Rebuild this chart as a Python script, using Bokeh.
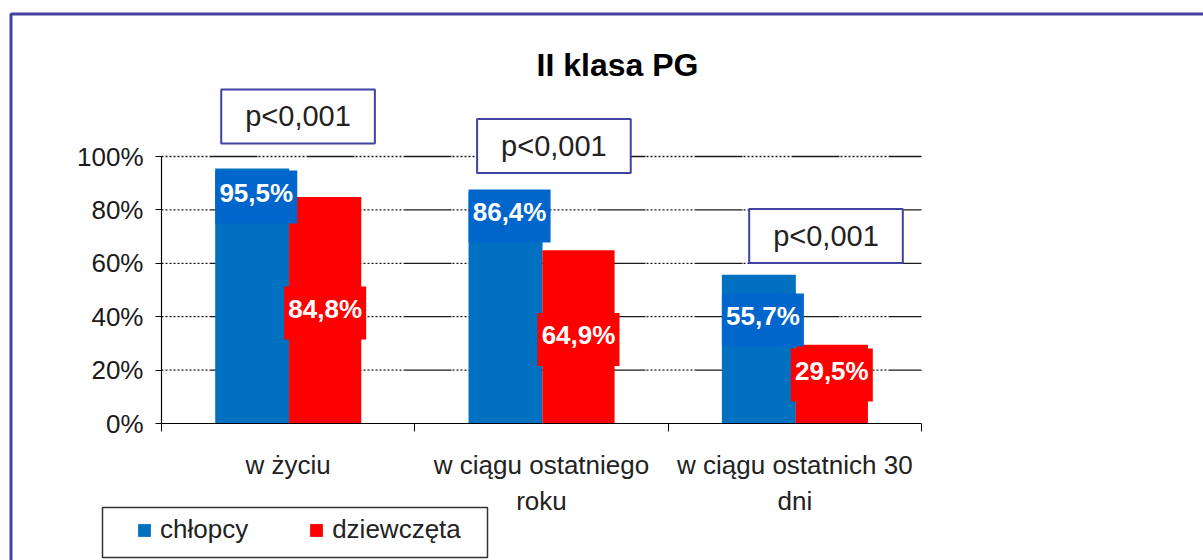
from bokeh.plotting import figure
from bokeh.models import (Range1d, FixedTicker, PrintfTickFormatter, Label, BoxAnnotation,
                          Legend, LegendItem, ColumnDataSource, LinearAxis)
from bokeh.core.properties import value
from bokeh.embed import file_html
from bokeh.resources import INLINE

# ---------------- data ----------------
categories = ["w życiu", "w ciągu ostatniego\nroku", "w ciągu ostatnich 30\ndni"]
boys = [95.5, 86.4, 55.7]
girls = [84.8, 64.9, 29.5]
series_names = ["chłopcy", "dziewczęta"]
p_values = ["p<0,001", "p<0,001", "p<0,001"]
y_ticks = [0, 20, 40, 60, 80, 100]
title_text = "II klasa PG"

# ---------------- layout (positions, not data) ----------------
BOYS_LABEL_Y = [84.8, 77.7, 38.8]
GIRLS_LABEL_Y = [41.4, 31.5, 18.2]
PBOX_DX = [0.039, 0.049, 0.123]
PBOX_Y = [115.0, 103.9, 70.2]
BOY_DX, GIRL_DX = -0.142, 0.146
BOY_W, GIRL_W = 0.292, 0.285
BOY_LABEL_DX = -0.126

BLUE = "#0070C0"
BLUE_LABEL = "#0066CC"
RED = "#FF0000"
FRAME_BLUE = "#4242a2"
FONT = "Liberation Sans"

W, H = 1203, 560
# plot area: x 0..3 spans px 161..921, y 0..100 spans px 423..156
PX_X = (921 - 161) / 3.0
PX_Y = (423 - 156) / 100.0
x_range = Range1d(-161 / PX_X, (W - 161) / PX_X)
y_range = Range1d(-(H - 423) / PX_Y, 423 / PX_Y)

p = figure(width=W, height=H, output_backend="svg", toolbar_location=None,
           x_range=x_range, y_range=y_range,
           x_axis_location=None, y_axis_location=None,
           min_border=0, min_border_left=0, min_border_right=0,
           min_border_top=0, min_border_bottom=0)
p.outline_line_color = None
p.background_fill_color = "white"
p.border_fill_color = "white"
p.grid.visible = False

ncat = len(categories)
centers = [i + 0.5 for i in range(ncat)]
src = ColumnDataSource(dict(
    xb=[c + BOY_DX for c in centers],
    xg=[c + GIRL_DX for c in centers],
    xbl=[c + BOY_LABEL_DX for c in centers],
    boys=boys, girls=girls,
    boys_ly=BOYS_LABEL_Y, girls_ly=GIRLS_LABEL_Y,
    boys_txt=[f"{v:.1f}".replace(".", ",") + "%" for v in boys],
    girls_txt=[f"{v:.1f}".replace(".", ",") + "%" for v in girls],
))

# horizontal grid lines at the y ticks (over the category span)
gsrc = ColumnDataSource(dict(y=y_ticks[1:], x0=[0] * (len(y_ticks) - 1), x1=[ncat] * (len(y_ticks) - 1)))
p.segment(x0="x0", x1="x1", y0="y", y1="y", source=gsrc, line_color="#1a1a1a", line_width=1.3,
          line_dash=" ".join(["2 2"] * 12) + " 48 1", level="underlay")

# bars
rb = p.vbar(x="xb", top="boys", width=BOY_W, bottom=0, fill_color=BLUE, line_color=None, source=src)
rg = p.vbar(x="xg", top="girls", width=GIRL_W, bottom=0, fill_color=RED, line_color=None, source=src)

# data labels
p.rect(x="xbl", y="boys_ly", width=82, height=53, width_units="screen", height_units="screen",
       fill_color=BLUE_LABEL, line_color=None, source=src)
p.rect(x="xg", y="girls_ly", width=82, height=53, width_units="screen", height_units="screen",
       fill_color=RED, line_color=None, source=src)
p.text(x="xbl", y="boys_ly", text="boys_txt", text_align="center", text_baseline="middle",
       y_offset=-4, text_color="white", text_font=value(FONT), text_font_style="bold",
       text_font_size="26px", source=src)
p.text(x="xg", y="girls_ly", text="girls_txt", text_align="center", text_baseline="middle",
       y_offset=-4, text_color="white", text_font=value(FONT), text_font_style="bold",
       text_font_size="26px", source=src)

# y axis (fixed at x = 0)
yax = LinearAxis(fixed_location=0, bounds=(0, 100))
yax.ticker = FixedTicker(ticks=y_ticks)
yax.formatter = PrintfTickFormatter(format="%d%%")
yax.axis_line_color = "black"
yax.axis_line_width = 1.2
yax.major_tick_out = 6
yax.major_tick_in = 0
yax.minor_tick_out = 0
yax.minor_tick_in = 0
yax.major_tick_line_color = "black"
yax.major_label_standoff = 12
yax.major_label_text_font = FONT
yax.major_label_text_font_size = "26px"
yax.major_label_text_color = "#1a1a1a"
p.add_layout(yax, "left")

# x axis (fixed at y = 0)
xax = LinearAxis(fixed_location=0, bounds=(0, ncat))
xax.ticker = FixedTicker(ticks=centers, minor_ticks=list(range(ncat + 1)))
xax.major_label_overrides = {c: categories[i] for i, c in enumerate(centers)}
xax.axis_line_color = "black"
xax.axis_line_width = 1.2
xax.major_tick_out = 0
xax.major_tick_in = 0
xax.minor_tick_out = 8
xax.minor_tick_in = 0
xax.minor_tick_line_color = "black"
xax.major_label_standoff = 18
xax.major_label_text_font = FONT
xax.major_label_text_font_size = "26px"
xax.major_label_text_color = "#222222"
xax.major_label_text_line_height = 1.2
p.add_layout(xax, "below")

# p-value boxes
for i, c in enumerate(centers):
    p.add_layout(Label(x=c + PBOX_DX[i], y=PBOX_Y[i], text=p_values[i],
                       text_align="center", text_baseline="middle",
                       text_font=FONT, text_font_size="29px", text_color="#222222",
                       border_line_color=FRAME_BLUE, border_line_width=2,
                       background_fill_color="white",
                       padding=dict(left=24, right=24, top=11, bottom=11)))

# title
p.add_layout(Label(x=1.80, y=134.1, text=title_text, text_align="center", text_baseline="middle",
                   text_font=FONT, text_font_size="32px", text_font_style="bold", text_color="black"))

# outer frame border
p.add_layout(BoxAnnotation(left=10.5, right=1400, top=13.5, bottom=1000,
                           left_units="canvas", right_units="canvas", top_units="canvas", bottom_units="canvas",
                           fill_alpha=0, line_color=FRAME_BLUE, line_alpha=1.0, line_width=3))

# legend border
p.add_layout(BoxAnnotation(left=102, right=487, top=507, bottom=557,
                           left_units="canvas", right_units="canvas", top_units="canvas", bottom_units="canvas",
                           fill_alpha=0, line_color="#333333", line_alpha=1.0, line_width=1.5))

legend = Legend(items=[LegendItem(label=series_names[0], renderers=[rb]),
                       LegendItem(label=series_names[1], renderers=[rg])],
                orientation="horizontal", location=(136, 15),
                border_line_alpha=0, background_fill_alpha=0,
                glyph_width=16, glyph_height=16, label_standoff=8, spacing=60,
                padding=0, margin=0,
                label_text_font=FONT, label_text_font_size="26px", label_text_color="#222222")
p.add_layout(legend)

open("out.html", "w").write(file_html(p, INLINE))
